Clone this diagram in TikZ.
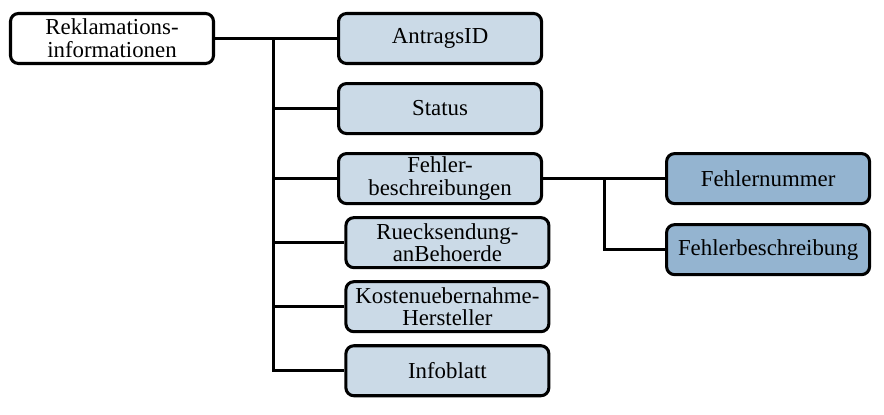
\documentclass[tikz,border=0pt]{standalone}
\usepackage{fontspec}
\setmainfont{Liberation Serif}
\usepackage{tikz}
\usetikzlibrary{positioning, calc}
\definecolor{hellblau}{RGB}{203,218,231}
\definecolor{mittelblau}{RGB}{148,180,208}
\tikzstyle{wurzel} = [rectangle, rounded corners=0.24cm, minimum width=6.09cm, minimum height=1.5cm, inner sep=0pt, text centered, align=center, draw=black, line width=2.6pt, fill=white]
\tikzstyle{feld} = [wurzel, fill=hellblau]
\tikzstyle{unterfeld} = [wurzel, fill=mittelblau]
\tikzstyle{linie} = [line width=2.6pt]
\tikzstyle{every node}=[font=\fontsize{19.5}{19.5}\selectfont]

\begin{document}
\begin{tikzpicture}
		\useasboundingbox (0,0) rectangle (26.52,-12.45);
		\node (root) [wurzel] at (3.36,-1.155) {Reklamations-\\informationen};
		\node (antrag) [feld, right=3.66cm of root] {AntragsID};
		\node (status) [feld, below=0.51cm of antrag] {Status};
		\node (fehler) [feld, below=0.51cm of status] {Fehler-\\beschreibungen};
		\node (rueck) [feld, below=0.33cm of fehler, xshift=0.22cm] {Ruecksendung-\\anBehoerde};
		\node (kosten) [feld, below=0.33cm of rueck] {Kostenuebernahme-\\Hersteller};
		\node (info) [feld, below=0.33cm of kosten] {Infoblatt};
		
		\node (nummer) [unterfeld, right=3.66cm of fehler] {Fehlernummer};
		\node (beschr) [unterfeld, below=0.54cm of nummer] {Fehlerbeschreibung};
		
		%Verbindungen
		\coordinate (gabel) at ($(root.east)+(1.74,0)$);
		\coordinate (gabel2) at ($(fehler.east)+(1.83,0)$);
		\draw [linie](root.east) -- (antrag.west);
		\draw [linie](gabel) |- (status.west);
		\draw [linie](gabel) |- (fehler.west);
		\draw [linie](gabel) |- (rueck.west);
		\draw [linie](gabel) |- (kosten.west);
		\draw [linie](gabel) |- (info.west);
		\draw [linie](fehler.east) -- (nummer.west);
		\draw [linie](gabel2) |- (beschr.west);
		
	\end{tikzpicture}
\end{document}
